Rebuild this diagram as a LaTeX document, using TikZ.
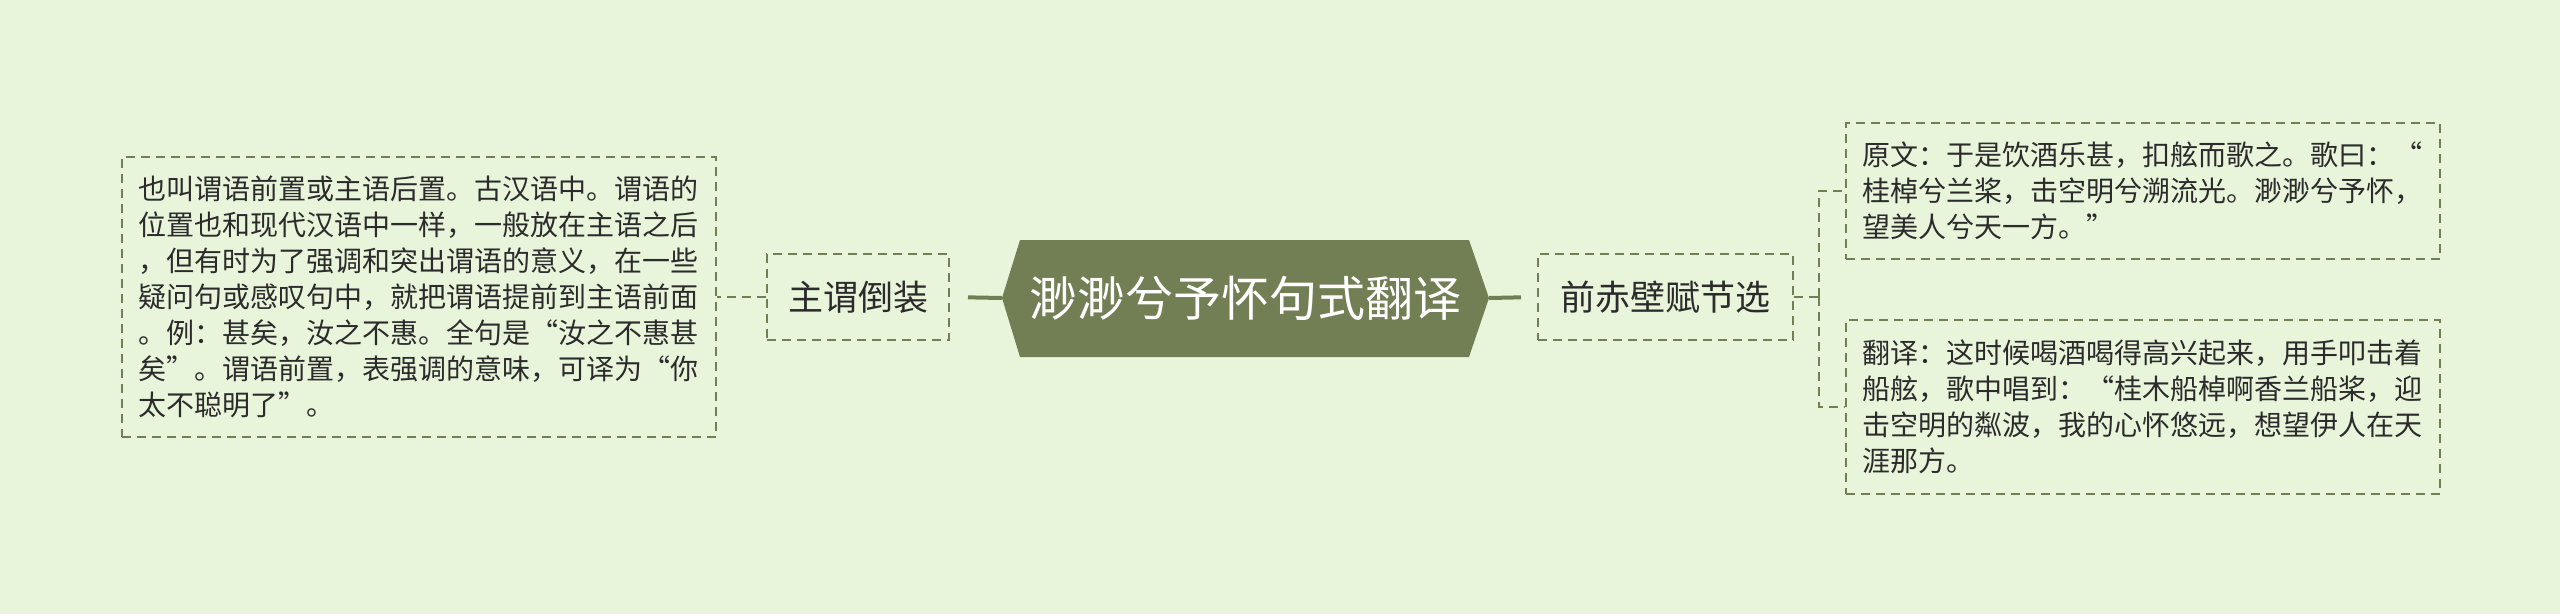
\documentclass[tikz,border=0pt]{standalone}
\usepackage{fontspec}
\setmainfont{Noto Sans CJK SC}
\usepackage{xcolor}
\definecolor{bg}{HTML}{E8F5DB}
\definecolor{olive}{HTML}{727F55}
\definecolor{ink}{HTML}{2B2B2B}

\begin{document}
\begin{tikzpicture}[x=1pt, y=-1pt,
    leaf/.style={draw=olive, line width=2pt, dash pattern=on 9pt off 6pt,
      text=ink, font=\fontsize{28}{36}\selectfont, align=left,
      anchor=north west, inner xsep=16pt, inner ysep=0pt, text width=562pt},
    mid/.style={draw=olive, line width=2pt, dash pattern=on 9pt off 6pt,
      text=ink, font=\fontsize{35}{40}\selectfont, inner sep=0pt},
    trunk/.style={draw=olive, line width=4pt},
    link/.style={draw=olive, line width=2pt, dash pattern=on 9pt off 6pt}]
    \useasboundingbox [fill=bg] (0,0) rectangle (2560,614);
    % root
    \fill [olive] (1002,298) -- (1020,240) -- (1469,240) -- (1489,298)
      -- (1469,357) -- (1020,357) -- cycle;
    \node [minimum width=487pt, minimum height=117pt, inner sep=0pt, text=white,
      font=\fontsize{48}{52}\selectfont] (root) at (1245.5,298) {渺渺兮予怀句式翻译};
    % left side
    \node [mid, minimum width=182pt, minimum height=86pt] (zw) at (858,297) {主谓倒装};
    \node [leaf, minimum height=280pt] (yx) at (121,156) {也叫谓语前置或主语后置。古汉语中。谓语的\\
      位置也和现代汉语中一样，一般放在主语之后\\
      ，但有时为了强调和突出谓语的意义，在一些\\
      疑问句或感叹句中，就把谓语提前到主语前面\\
      。例：甚矣，汝之不惠。全句是“汝之不惠甚\\
      矣”。谓语前置，表强调的意味，可译为“你\\
      太不聪明了”。};
    \draw [trunk, shorten >=18pt] (root.west) -- (zw.east);
    \draw [link] (zw.west) -- (zw.west -| yx.east);
    % right side
    \node [mid, minimum width=255pt, minimum height=86pt] (sec) at (1665.5,297) {前赤壁赋节选};
    \node [leaf, minimum height=136pt] (yw) at (1845,122) {原文：于是饮酒乐甚，扣舷而歌之。歌曰：“\\
      桂棹兮兰桨，击空明兮溯流光。渺渺兮予怀，\\
      望美人兮天一方。”};
    \node [leaf, minimum height=174pt] (fy) at (1845,319) {翻译：这时候喝酒喝得高兴起来，用手叩击着\\
      船舷，歌中唱到：“桂木船棹啊香兰船桨，迎\\
      击空明的粼波，我的心怀悠远，想望伊人在天\\
      涯那方。};
    \draw [trunk, shorten >=16pt] (root.east) -- (sec.west);
    \coordinate (fork) at (1819,297);
    \draw [link] (sec.east) -- (fork);
    \draw [link] (fork) |- (yw.west);
    \draw [link] (fork) |- (fy.west);
  \end{tikzpicture}
\end{document}
